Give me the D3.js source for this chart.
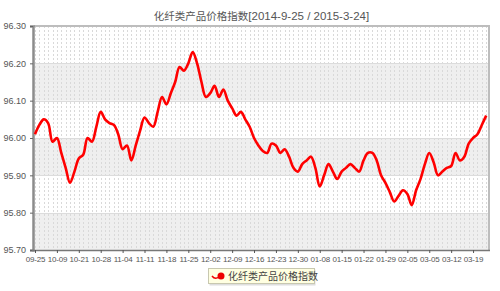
<!DOCTYPE html>
<html>
<head>
<meta charset="utf-8">
<script src="https://cdn.jsdelivr.net/npm/d3@7"></script>
<style>
  body { margin: 0; background: #fff; }
  svg { display: block; font-family: Arial, "Liberation Sans", sans-serif; }
</style>
</head>
<body>
<svg class="chart" width="500" height="291"></svg>
<script>
// index values, one per trading day
var values = [
  96.01, 96.035, 96.05, 96.04, 95.99, 96.00, 95.96, 95.92, 95.88, 95.91,
  95.945, 95.955, 96.00, 95.99, 96.03, 96.07, 96.05, 96.04, 96.035, 96.01,
  95.97, 95.98, 95.94, 95.98, 96.02, 96.055, 96.04, 96.03, 96.07, 96.11,
  96.09, 96.12, 96.15, 96.19, 96.18, 96.20, 96.23, 96.20, 96.15, 96.11,
  96.12, 96.14, 96.11, 96.13, 96.10, 96.08, 96.06, 96.07, 96.05, 96.03,
  96.00, 95.98, 95.965, 95.96, 95.985, 95.98, 95.96, 95.97, 95.95, 95.92,
  95.91, 95.93, 95.94, 95.95, 95.92, 95.87, 95.90, 95.93, 95.91, 95.89,
  95.91, 95.92, 95.93, 95.92, 95.91, 95.94, 95.96, 95.96, 95.94, 95.90,
  95.88, 95.855, 95.83, 95.845, 95.86, 95.85, 95.82, 95.86, 95.89, 95.93,
  95.96, 95.935, 95.90, 95.91, 95.92, 95.925, 95.96, 95.94, 95.95, 95.985,
  96.00, 96.01, 96.035, 96.06
];

// one label every 5 points
var tick_labels = ["09-25", "10-09", "10-21", "10-28", "11-04", "11-11", "11-18",
  "11-25", "12-02", "12-09", "12-16", "12-23", "12-30", "01-08", "01-15",
  "01-22", "01-29", "02-05", "03-05", "03-12", "03-19"];

var y_ticks = [95.70, 95.80, 95.90, 96.00, 96.10, 96.20, 96.30];
var series_name = "化纤类产品价格指数";
var date_range = "[2014-9-25 / 2015-3-24]";

var plot_left = 34, plot_right = 489, plot_top = 26, plot_bottom = 250;
var svg = d3.select("svg.chart");

var x = d3.scalePoint()
    .domain(d3.range(values.length))
    .range([plot_left + 1, 486.2]);
var y = d3.scaleLinear().domain([95.70, 96.30]).range([plot_bottom, plot_top]);

//alternating bands
var bands = d3.pairs(y_ticks);
svg.append("g").selectAll("rect")
    .data(bands)
    .enter()
    .append("rect")
        .attr("x", plot_left)
        .attr("width", plot_right - plot_left)
        .attr("y", d => y(d[1]))
        .attr("height", d => y(d[0]) - y(d[1]))
        .attr("fill", (d, i) => i % 2 == 0 ? "#efefef" : "#ffffff");

//dotted vertical lines at every point
svg.append("g").selectAll("line")
    .data(d3.range(values.length))
    .enter()
    .append("line")
        .attr("x1", d => Math.round(x(d)) + 0.5).attr("x2", d => Math.round(x(d)) + 0.5)
        .attr("y1", plot_top).attr("y2", plot_bottom)
        .attr("stroke", "#d9d9d9")
        .attr("stroke-dasharray", "2,2");

//horizontal grid lines
svg.append("g").selectAll("line")
    .data(y_ticks)
    .enter()
    .append("line")
        .attr("x1", plot_left).attr("x2", plot_right)
        .attr("y1", d => Math.round(y(d)) + 0.5).attr("y2", d => Math.round(y(d)) + 0.5)
        .attr("stroke", "#dcdcdc");

//frame: top and right
svg.append("path")
    .attr("d", `M${plot_left},${plot_top} H${plot_right} V${plot_bottom}`)
    .attr("fill", "none")
    .attr("stroke", "#bdbdbd")
    .attr("stroke-width", 2);

//y axis
var y_axis = svg.append("g")
    .attr("transform", `translate(${plot_left - 1},0)`)
    .call(d3.axisLeft(y).tickValues(y_ticks).tickFormat(d3.format(".2f")).tickSize(3).tickPadding(4));
y_axis.select(".domain").attr("stroke", "#8c8c8c").attr("stroke-width", 2.5);
y_axis.selectAll(".tick line").attr("stroke", "#666");
y_axis.selectAll("text").attr("fill", "#555").style("font-size", "9px");

//x axis
var x_axis = svg.append("g")
    .attr("transform", `translate(0,${plot_bottom})`)
    .call(d3.axisBottom(x)
        .tickValues(d3.range(0, values.length, 5))
        .tickFormat((d, i) => tick_labels[i])
        .tickSize(3).tickPadding(3));
x_axis.select(".domain").attr("d", `M${plot_left - 2},0.5H${plot_right + 1}`).attr("stroke", "#777").attr("stroke-width", 1.5);
x_axis.selectAll(".tick line").attr("stroke", "#555");
x_axis.selectAll("text").attr("fill", "#555")
    .style("font-size", "8px")
    .style("letter-spacing", "-0.2px");

//line
var line = d3.line()
    .x((d, i) => x(i))
    .y(d => y(d))
    .curve(d3.curveCatmullRom.alpha(0.5));
svg.append("path")
    .datum(values)
    .attr("d", line)
    .attr("fill", "none")
    .attr("stroke", "#ff0000")
    .attr("stroke-width", 2.6)
    .attr("stroke-linejoin", "round");

//title
var title = svg.append("text")
    .attr("x", 261.5)
    .attr("y", 20)
    .attr("text-anchor", "middle")
    .attr("fill", "#555");
title.append("tspan")
    .style("font-family", "'Noto Sans CJK SC'")
    .style("font-size", "10.5px")
    .text(series_name);
title.append("tspan")
    .style("font-size", "11.5px")
    .text(date_range);

//legend
var legend = svg.append("g").attr("transform", "translate(208,268)");
legend.append("rect")
    .attr("x", 1.5).attr("y", 1.5)
    .attr("width", 106).attr("height", 16)
    .attr("fill", "#dedede");
legend.append("rect")
    .attr("x", 0.5).attr("y", 0.5)
    .attr("width", 106).attr("height", 15)
    .attr("fill", "#ffffe1")
    .attr("stroke", "#c8c8b0");
legend.append("path")
    .attr("d", "M4,8 Q7,12 11,9")
    .attr("fill", "none")
    .attr("stroke", "#e00")
    .attr("stroke-width", 1.5);
legend.append("circle")
    .attr("cx", 13).attr("cy", 8).attr("r", 3.5)
    .attr("fill", "#e00");
legend.append("text")
    .attr("x", 20).attr("y", 12)
    .attr("fill", "#444")
    .style("font-family", "'Noto Sans CJK SC'")
    .style("font-size", "10px")
    .text(series_name);
</script>
</body>
</html>
